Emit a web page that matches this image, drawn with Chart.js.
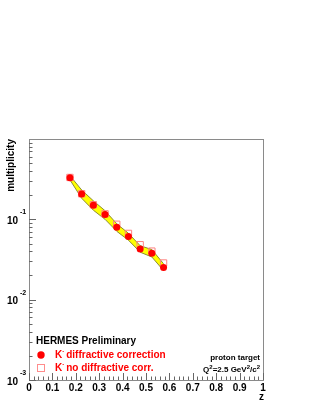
<!DOCTYPE html>
<html>
<head>
<meta charset="utf-8">
<script src="https://cdn.jsdelivr.net/npm/chart.js@4/dist/chart.umd.min.js"></script>
<style>
  html, body { margin: 0; padding: 0; background: #fff; }
  #wrap { width: 316px; height: 409px; }
</style>
</head>
<body>
<div id="wrap"><canvas id="chart" width="316" height="409"></canvas></div>
<script>
// z bins
const zValues = [0.175, 0.225, 0.275, 0.325, 0.375, 0.425, 0.475, 0.525, 0.575];
// K- with diffractive correction
const kMinusCorr = [0.329, 0.206, 0.150, 0.115, 0.0797, 0.0611, 0.0428, 0.0378, 0.0252];
// K- without diffractive correction
const kMinusNoCorr = [0.332, 0.208, 0.152, 0.117, 0.0868, 0.0668, 0.0483, 0.0402, 0.0286];
// systematic band
const bandHigh = [0.350, 0.232, 0.170, 0.128, 0.088, 0.067, 0.047, 0.042, 0.028];
const bandLow = [0.310, 0.183, 0.130, 0.100, 0.071, 0.055, 0.039, 0.034, 0.023];

const xTicks = [0, 0.1, 0.2, 0.3, 0.4, 0.5, 0.6, 0.7, 0.8, 0.9, 1];
const yDecades = [0.001, 0.01, 0.1, 1];
const yDecadeLabels = ['-3', '-2', '-1', ''];

const toPts = (ys) => ys.map((y, i) => ({ x: zValues[i], y: y }));

const FONT = '"Liberation Sans", Arial, Helvetica, sans-serif';

const axesPlugin = {
  id: 'rootAxes',
  afterDraw(chart) {
    const ctx = chart.ctx;
    const xs = chart.scales.x;
    const ys = chart.scales.y;
    const a = chart.chartArea;
    ctx.save();

    // frame
    ctx.strokeStyle = '#8a8a8a';
    ctx.lineWidth = 1;
    ctx.strokeRect(Math.round(a.left) + 0.5, Math.round(a.top) + 0.5,
      Math.round(a.right - a.left), Math.round(a.bottom - a.top));

    ctx.strokeStyle = '#666';
    // x ticks
    ctx.beginPath();
    for (let i = 0; i <= 50; i++) {
      const v = i / 50;
      const px = Math.round(xs.getPixelForValue(v)) + 0.5;
      const len = i % 5 === 0 ? 7 : 3.5;
      ctx.moveTo(px, a.bottom);
      ctx.lineTo(px, a.bottom - len);
    }
    // y ticks (log)
    for (let d = -3; d < 0; d++) {
      for (let m = 1; m <= 9; m++) {
        const v = m * Math.pow(10, d);
        const py = Math.round(ys.getPixelForValue(v)) + 0.5;
        const len = m === 1 ? 7 : 3.5;
        ctx.moveTo(a.left, py);
        ctx.lineTo(a.left + len, py);
      }
    }
    ctx.stroke();

    // x labels
    ctx.fillStyle = '#000';
    ctx.font = 'bold 10px ' + FONT;
    ctx.textAlign = 'center';
    ctx.textBaseline = 'middle';
    xTicks.forEach(v => {
      ctx.fillText(String(v), xs.getPixelForValue(v), 388);
    });
    ctx.textAlign = 'right';
    ctx.fillText('z', 264, 397);

    // y labels
    yDecades.forEach((v, i) => {
      if (!yDecadeLabels[i]) return;
      const py = ys.getPixelForValue(v);
      ctx.font = 'bold 10px ' + FONT;
      ctx.textAlign = 'right';
      ctx.fillText('10', 18, py + 2);
      ctx.font = 'bold 7px ' + FONT;
      ctx.textAlign = 'left';
      ctx.fillText(yDecadeLabels[i], 20, py - 7);
    });

    // y title
    ctx.save();
    ctx.translate(11, a.top);
    ctx.rotate(-Math.PI / 2);
    ctx.font = 'bold 10px ' + FONT;
    ctx.textAlign = 'right';
    ctx.textBaseline = 'middle';
    ctx.fillText('multiplicity', 0, 0);
    ctx.restore();

    // legend
    ctx.textBaseline = 'middle';
    ctx.textAlign = 'left';
    ctx.font = 'bold 10px ' + FONT;
    ctx.fillStyle = '#000';
    ctx.fillText('HERMES Preliminary', 36, 341);

    ctx.fillStyle = '#ff0000';
    ctx.beginPath();
    ctx.arc(41, 355, 3.7, 0, Math.PI * 2);
    ctx.fill();
    ctx.strokeStyle = 'rgb(255,140,140)';
    ctx.strokeRect(37.5, 364.5, 7, 7);

    ctx.fillStyle = '#ff0000';
    const drawK = (label, y) => {
      ctx.font = 'bold 10px ' + FONT;
      ctx.fillText('K', 55, y);
      const kw = ctx.measureText('K').width;
      ctx.font = 'bold 6px ' + FONT;
      ctx.fillText('-', 55 + kw, y - 4);
      ctx.font = 'bold 10px ' + FONT;
      ctx.fillText(label, 55 + kw + 4, y);
    };
    drawK('diffractive correction', 355);
    drawK('no diffractive corr.', 368);

    // target info
    ctx.fillStyle = '#000';
    ctx.textAlign = 'right';
    ctx.font = 'bold 8px ' + FONT;
    ctx.fillText('proton target', 260, 358);
    // Q^2 line, built right to left
    let x = 260;
    const y = 370;
    const parts = [
      ['2', 6, -3], ['/c', 8, 0], ['2', 6, -3], ['=2.5 GeV', 8, 0], ['2', 6, -3], ['Q', 8, 0]
    ];
    parts.forEach(([t, sz, dy]) => {
      ctx.font = 'bold ' + sz + 'px ' + FONT;
      ctx.fillText(t, x, y + dy);
      x -= ctx.measureText(t).width;
    });

    ctx.restore();
  }
};

new Chart(document.getElementById('chart'), {
  type: 'line',
  data: {
    datasets: [
      {
        label: 'band high',
        data: toPts(bandHigh),
        borderColor: 'rgb(140,140,50)',
        borderWidth: 1,
        backgroundColor: '#ffff00',
        fill: '+1',
        pointRadius: 0,
        tension: 0,
        order: 3
      },
      {
        label: 'band low',
        data: toPts(bandLow),
        borderColor: 'rgb(140,140,50)',
        borderWidth: 1,
        backgroundColor: '#ffff00',
        fill: false,
        pointRadius: 0,
        tension: 0,
        order: 2
      },
      {
        label: 'K- no diffractive corr.',
        data: toPts(kMinusNoCorr),
        showLine: false,
        pointStyle: 'rect',
        pointRadius: 4.5,
        pointBorderWidth: 1,
        pointBorderColor: 'rgb(255,130,130)',
        pointBackgroundColor: 'rgba(0,0,0,0)',
        order: 1
      },
      {
        label: 'K- diffractive correction',
        data: toPts(kMinusCorr),
        showLine: false,
        pointStyle: 'circle',
        pointRadius: 3.5,
        pointBorderWidth: 0,
        pointBackgroundColor: '#ff0000',
        order: 0
      }
    ]
  },
  options: {
    responsive: false,
    animation: false,
    devicePixelRatio: 1,
    layout: { padding: { left: 29, right: 53, top: 139, bottom: 29 } },
    plugins: { legend: { display: false }, tooltip: { enabled: false } },
    scales: {
      x: { type: 'linear', min: 0, max: 1, display: false },
      y: { type: 'logarithmic', min: 0.001, max: 1, display: false }
    }
  },
  plugins: [axesPlugin]
});
</script>
</body>
</html>
